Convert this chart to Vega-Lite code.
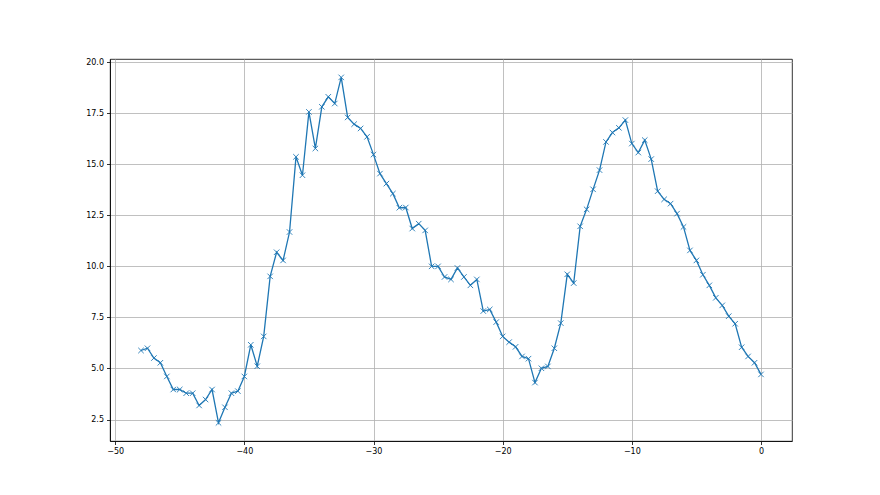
{
  "$schema": "https://vega.github.io/schema/vega-lite/v6.json",
  "width": 682,
  "height": 382,
  "autosize": {"type": "none"},
  "padding": {"left": 110, "top": 59, "right": 88, "bottom": 54},
  "background": "white",
  "config": {
    "view": {"stroke": "black", "strokeWidth": 0.8},
    "axis": {
      "labelFont": "DejaVu Sans",
      "labelFontSize": 8,
      "labelColor": "black",
      "domainColor": "black",
      "domainWidth": 0.8,
      "tickColor": "black",
      "tickWidth": 0.8,
      "tickSize": 3.5,
      "labelPadding": 3,
      "grid": true,
      "gridColor": "#b0b0b0",
      "gridWidth": 0.8,
      "title": null
    }
  },
  "data": {
    "values": [
      {"x": -48, "y": 5.88}, {"x": -47.5, "y": 5.99}, {"x": -47, "y": 5.51}, {"x": -46.5, "y": 5.28},
      {"x": -46, "y": 4.61}, {"x": -45.5, "y": 3.97}, {"x": -45, "y": 3.97}, {"x": -44.5, "y": 3.79},
      {"x": -44, "y": 3.79}, {"x": -43.5, "y": 3.19}, {"x": -43, "y": 3.48}, {"x": -42.5, "y": 3.97},
      {"x": -42, "y": 2.34}, {"x": -41.5, "y": 3.1}, {"x": -41, "y": 3.79}, {"x": -40.5, "y": 3.89},
      {"x": -40, "y": 4.61}, {"x": -39.5, "y": 6.16}, {"x": -39, "y": 5.11}, {"x": -38.5, "y": 6.57},
      {"x": -38, "y": 9.51}, {"x": -37.5, "y": 10.69}, {"x": -37, "y": 10.29}, {"x": -36.5, "y": 11.68},
      {"x": -36, "y": 15.36}, {"x": -35.5, "y": 14.46}, {"x": -35, "y": 17.56}, {"x": -34.5, "y": 15.77},
      {"x": -34, "y": 17.81}, {"x": -33.5, "y": 18.3}, {"x": -33, "y": 17.97}, {"x": -32.5, "y": 19.25},
      {"x": -32, "y": 17.29}, {"x": -31.5, "y": 16.96}, {"x": -31, "y": 16.75}, {"x": -30.5, "y": 16.34},
      {"x": -30, "y": 15.47}, {"x": -29.5, "y": 14.54}, {"x": -29, "y": 14.05}, {"x": -28.5, "y": 13.56},
      {"x": -28, "y": 12.87}, {"x": -27.5, "y": 12.88}, {"x": -27, "y": 11.85}, {"x": -26.5, "y": 12.09},
      {"x": -26, "y": 11.76}, {"x": -25.5, "y": 10.0}, {"x": -25, "y": 10.0}, {"x": -24.5, "y": 9.48},
      {"x": -24, "y": 9.36}, {"x": -23.5, "y": 9.92}, {"x": -23, "y": 9.48}, {"x": -22.5, "y": 9.07},
      {"x": -22, "y": 9.36}, {"x": -21.5, "y": 7.81}, {"x": -21, "y": 7.89}, {"x": -20.5, "y": 7.27},
      {"x": -20, "y": 6.57}, {"x": -19.5, "y": 6.29}, {"x": -19, "y": 6.06}, {"x": -18.5, "y": 5.59},
      {"x": -18, "y": 5.48}, {"x": -17.5, "y": 4.31}, {"x": -17, "y": 5.01}, {"x": -16.5, "y": 5.1},
      {"x": -16, "y": 5.99}, {"x": -15.5, "y": 7.22}, {"x": -15, "y": 9.61}, {"x": -14.5, "y": 9.18},
      {"x": -14, "y": 11.96}, {"x": -13.5, "y": 12.79}, {"x": -13, "y": 13.77}, {"x": -12.5, "y": 14.71},
      {"x": -12, "y": 16.09}, {"x": -11.5, "y": 16.55}, {"x": -11, "y": 16.78}, {"x": -10.5, "y": 17.16},
      {"x": -10, "y": 16.01}, {"x": -9.5, "y": 15.57}, {"x": -9, "y": 16.18}, {"x": -8.5, "y": 15.25},
      {"x": -8, "y": 13.68}, {"x": -7.5, "y": 13.28}, {"x": -7, "y": 13.07}, {"x": -6.5, "y": 12.58},
      {"x": -6, "y": 11.93}, {"x": -5.5, "y": 10.78}, {"x": -5, "y": 10.29}, {"x": -4.5, "y": 9.59},
      {"x": -4, "y": 9.07}, {"x": -3.5, "y": 8.46}, {"x": -3, "y": 8.09}, {"x": -2.5, "y": 7.56},
      {"x": -2, "y": 7.19}, {"x": -1.5, "y": 6.04}, {"x": -1, "y": 5.59}, {"x": -0.5, "y": 5.28},
      {"x": 0, "y": 4.71}
    ]
  },
  "encoding": {
    "x": {
      "field": "x", "type": "quantitative",
      "scale": {"domain": [-50.4, 2.4], "nice": false, "zero": false},
      "axis": {"values": [-50, -40, -30, -20, -10, 0], "labelExpr": "replace(format(datum.value, 'd'), '-', '\u2212')", "labelFlush": false}
    },
    "y": {
      "field": "y", "type": "quantitative",
      "scale": {"domain": [1.45, 20.15], "nice": false, "zero": false},
      "axis": {"values": [2.5, 5, 7.5, 10, 12.5, 15, 17.5, 20], "format": ".1f"}
    }
  },
  "layer": [
    {"mark": {"type": "line", "color": "#1f77b4", "strokeWidth": 1.3}},
    {"mark": {"type": "point", "shape": "M-1,-1L1,1M-1,1L1,-1", "filled": false, "stroke": "#1f77b4", "strokeWidth": 0.9, "size": 30, "opacity": 1}}
  ]
}
